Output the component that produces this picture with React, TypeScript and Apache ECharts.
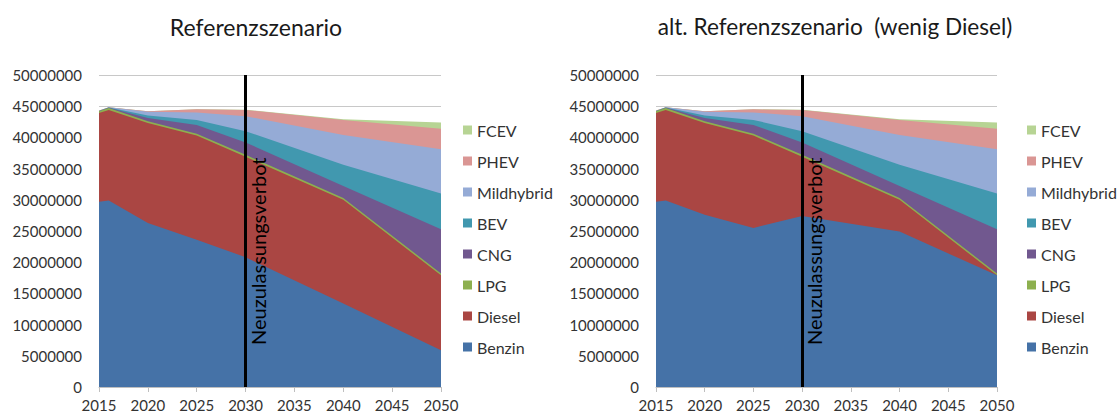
import React, { useEffect, useRef } from "react";
import * as echarts from "echarts";

const years = [2015, 2016, 2020, 2025, 2030, 2040, 2050];
const seriesNames = ["Benzin", "Diesel", "LPG", "CNG", "BEV", "Mildhybrid", "PHEV", "FCEV"];
const colors = ["#4572A7", "#AA4643", "#8DB04F", "#71588F", "#4198AF", "#95ABD6", "#DA9694", "#B7D494"];

// Referenzszenario
const benzinRef = [29700000, 29900000, 26300000, 23600000, 20800000, 13400000, 5900000];
const dieselRef = [14200000, 14500000, 16000000, 16700000, 16100000, 16600000, 12000000];
// alt. Referenzszenario (wenig Diesel)
const benzinAlt = [29700000, 29900000, 27600000, 25500000, 27400000, 24900000, 17900000];
const dieselAlt = [14200000, 14500000, 14700000, 14800000, 9500000, 5100000, 0];
// shared
const lpg = [300000, 300000, 300000, 300000, 300000, 300000, 300000];
const cng = [0, 50000, 500000, 1400000, 2000000, 1900000, 7100000];
const bev = [50000, 30000, 400000, 800000, 1800000, 3400000, 5700000];
const mildhybrid = [0, 50000, 600000, 1200000, 2400000, 4800000, 7100000];
const phev = [50000, 20000, 100000, 500000, 1000000, 2400000, 3300000];
const fcev = [0, 0, 0, 0, 50000, 100000, 1000000];

const xTicks = { min: 2015, max: 2050, interval: 5 };
const yTicks = { min: 0, max: 50000000, interval: 5000000 };

const titles = ["Referenzszenario", "alt. Referenzszenario  (wenig Diesel)"];
const markText = "Neuzulassungsverbot";

const FONT = "Lato";

export default function App() {
  const ref = useRef<HTMLDivElement>(null);
  useEffect(() => {
    const chart = echarts.init(ref.current!, undefined, { renderer: "svg" });
    const grids = [
      { left: 99, top: 75, width: 342, height: 312 },
      { left: 656, top: 75, width: 341, height: 312 },
    ];
    const scen = [
      [benzinRef, dieselRef, lpg, cng, bev, mildhybrid, phev, fcev],
      [benzinAlt, dieselAlt, lpg, cng, bev, mildhybrid, phev, fcev],
    ];
    const series: any[] = [];
    scen.forEach((arrs, gi) => {
      // cumulative (stacked) totals, drawn from the top layer down so lower layers cover higher ones
      const cum: number[][] = [];
      arrs.forEach((arr, si) => {
        cum.push(arr.map((v, i) => v + (si > 0 ? cum[si - 1][i] : 0)));
      });
      for (let si = arrs.length - 1; si >= 0; si--) {
        const s: any = {
          type: "line",
          name: seriesNames[si],
          xAxisIndex: gi,
          yAxisIndex: gi,
          data: years.map((y, i) => [y, cum[si][i]]),
          showSymbol: false,
          symbol: "none",
          lineStyle: { width: 0 },
          areaStyle: { color: colors[si], opacity: 1 },
          itemStyle: { color: colors[si] },
        };
        if (si === 0) {
          s.markLine = {
            silent: true,
            symbol: "none",
            animation: false,
            lineStyle: { color: "#000", width: 3, type: "solid" },
            label: {
              show: true,
              formatter: markText,
              position: "insideStartBottom",
              distance: [42, 2],
              color: "#000",
              fontFamily: FONT,
              fontSize: 20,
            },
            data: [{ xAxis: 2030 }],
          };
        }
        series.push(s);
      }
    });
    const legendData = [...seriesNames].reverse();
    chart.setOption({
      animation: false,
      textStyle: { fontFamily: FONT },
      title: [
        { text: titles[0], left: 251, top: 10, textAlign: "center", textStyle: { fontFamily: FONT, fontSize: 23, fontWeight: "normal", color: "#1a1a1a" } },
        { text: titles[1], left: 830, top: 10, textAlign: "center", textStyle: { fontFamily: FONT, fontSize: 22.6, fontWeight: "normal", color: "#1a1a1a" } },
      ],
      legend: [
        { data: legendData, orient: "vertical", left: 458, top: 117, itemWidth: 9, itemHeight: 9, itemGap: 15, icon: "rect", textStyle: { fontFamily: FONT, fontSize: 16, color: "#333" } },
        { data: legendData, orient: "vertical", left: 1022, top: 117, itemWidth: 9, itemHeight: 9, itemGap: 15, icon: "rect", textStyle: { fontFamily: FONT, fontSize: 16, color: "#333" } },
      ],
      grid: grids,
      xAxis: grids.map((_, gi) => ({
        type: "value",
        gridIndex: gi,
        ...xTicks,
        axisLine: { show: true, lineStyle: { color: "#bfbfbf" } },
        axisTick: { show: true, length: 5, lineStyle: { color: "#bfbfbf" } },
        splitLine: { show: false },
        axisLabel: { formatter: (v: number) => String(v), fontFamily: FONT, fontSize: 15, color: "#333", margin: 10 },
      })),
      yAxis: grids.map((_, gi) => ({
        type: "value",
        gridIndex: gi,
        ...yTicks,
        axisLine: { show: false },
        axisTick: { show: false },
        splitLine: { show: true, lineStyle: { color: "#c8c8c8" } },
        axisLabel: { formatter: (v: number) => String(v), fontFamily: FONT, fontSize: 15, color: "#333", margin: 17 },
      })),
      series,
    });
    return () => chart.dispose();
  }, []);
  return <div ref={ref} style={{ position: "absolute", left: 0, top: 0, width: 1119, height: 416 }} />;
}
